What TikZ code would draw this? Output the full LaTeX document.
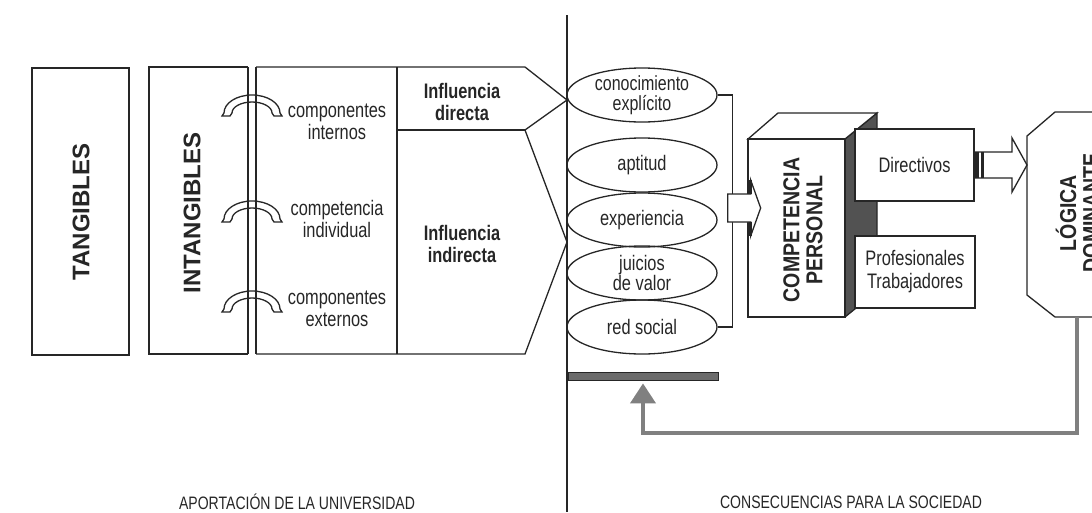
\documentclass[tikz,border=0pt]{standalone}
\usepackage{fontspec}
\setmainfont{Liberation Sans}[FakeStretch=0.78]
\newfontfamily\widefont{Liberation Sans}
\newfontfamily\capfont{Liberation Sans}[FakeStretch=0.85]
\usetikzlibrary{shapes.geometric,arrows.meta,calc}
\tikzset{
  ln/.style={draw=black!85, line width=1.3pt},
  lbl/.style={font=\fontsize{21}{21.5}\selectfont, align=center, inner sep=0pt, text=black!85},
  blbl/.style={font=\fontsize{21}{21.5}\selectfont\bfseries, align=center, inner sep=0pt, text=black!85},
  bigcap/.style={font=\widefont\bfseries\fontsize{24}{24}\selectfont, rotate=90, inner sep=0pt, text=black!85},
  medcap/.style={font=\capfont\bfseries\fontsize{23}{23}\selectfont, rotate=90, align=center, inner sep=0pt, text=black!85},
  oval/.style={ellipse, ln, minimum width=150pt, minimum height=54pt, inner sep=0pt},
  footer/.style={font=\fontsize{18}{18}\selectfont, inner sep=0pt, text=black!85},
  fb/.style={draw=black!50, line width=4pt},
  boxnode/.style={ln, fill=white, inner sep=0pt, align=center, font=\fontsize{21}{23}\selectfont, text=black!85},
  binderclip/.pic={
    \draw[ln, fill=white] (-30,3) -- (-28,0) arc[x radius=28, y radius=18, start angle=180, end angle=360]
      -- (30,3) -- (22,3) -- (20,0) arc[x radius=20, y radius=11, start angle=0, end angle=-180] -- (-22,3) -- cycle;
  }
}
\begin{document}
\begin{tikzpicture}[x=1pt, y=-1pt]
\useasboundingbox (0,0) rectangle (1092,512);
\begin{scope}
\clip (0,0) rectangle (1092,512);

% --- left part: university contribution ---
\node[ln, minimum width=97pt, minimum height=287pt, inner sep=0pt] (tangbox) at (80.5,211.5) {};
\node[bigcap] (tang) at (81,212) {TANGIBLES};

\draw[ln] (248,67) -- (149,67) -- (149,354) -- (248,354);
\node[bigcap] (intang) at (192,213) {INTANGIBLES};

\draw[ln] (256,67) -- (525,67) -- (567,100) -- (525,130) -- (567,242) -- (525,354) -- (256,354);
\draw[ln] (397,67) -- (397,354);
\draw[ln] (397,130) -- (525,130);

\pic at (252,113) {binderclip};
\pic at (252,219) {binderclip};
\pic at (252,309) {binderclip};
\draw[ln] (248,67) -- (248,354);
\draw[ln] (256,67) -- (256,354);

\node[lbl] (ci1) at (337,122) {componentes\\internos};
\node[lbl] (ci2) at (337,219) {competencia\\individual};
\node[lbl] (ci3) at (337,309) {componentes\\externos};
\node[blbl] (infd) at (462,102) {Influencia\\directa};
\node[blbl] (infi) at (462,244) {Influencia\\indirecta};

% --- divider ---
\draw[ln] (567,15) -- (567,512);

% --- ellipses ---
\node[oval] (k1) at (642,95) {};
\node[oval] (k2) at (642,165) {};
\node[oval] (k3) at (642,220) {};
\node[oval] (k4) at (642,273) {};
\node[oval] (k5) at (642,327) {};
\node[lbl, font=\fontsize{20.5}{20}\selectfont] (k1t) at (k1) {conocimiento\\explícito};
\node[lbl] (k2t) at (k2) {aptitud};
\node[lbl] (k3t) at (k3) {experiencia};
\node[lbl, font=\fontsize{21}{20}\selectfont] (k4t) at (k4) {juicios\\de valor};
\node[lbl] (k5t) at (k5) {red social};
\draw[ln] (k1.east) -- ++(15,0) |- (k5.east);

% --- competencia personal (3D box) ---
\fill[black!68] (845,139) -- (877,113) -- (877,291) -- (845,317) -- cycle;
\draw[ln] (845,139) -- (877,113) -- (877,291) -- (845,317);
\draw[ln, fill=white] (748,139) -- (778,113) -- (877,113) -- (845,139) -- cycle;
\node[ln, fill=white, minimum width=97pt, minimum height=178pt, inner sep=0pt] (comp) at (796.5,228) {};
\node[medcap] (compt) at (803,230) {COMPETENCIA\\PERSONAL};

\node[boxnode, minimum width=119pt, minimum height=72pt] (dir) at (914.5,165) {Directivos};
\node[boxnode, minimum width=120pt, minimum height=72pt] (prof) at (915,272) {Profesionales\\Trabajadores};

% arrow from bracket to competencia
\coordinate (ca) at ($(k1.east)!0.5!(k5.east)+(10,-3)$);
\draw[ln, fill=white] ($(ca)+(0,-14)$) -- ++(23,0) -- ++(0,-14) -- ($(ca)+(33,0)$)
  -- ($(ca)+(23,28)$) -- ++(0,-14) -- ($(ca)+(0,14)$) -- cycle;
\draw[black!85, line width=2.6pt] ($(ca)+(23,-28)$) -- ($(ca)+(23,-14)$);
\draw[black!85, line width=2.6pt] ($(ca)+(23,14)$) -- ($(ca)+(23,28)$);

% --- lógica dominante ---
\draw[ln, fill=white] (1120,112) -- (1055,112) -- (1027,136) -- (1027,295) -- (1055,317) -- (1120,317);
\coordinate (lgw) at (1027,165);
\coordinate (lgb) at (1077,317);
\node[medcap] (logt) at (1077.5,213) {LÓGICA\\DOMINANTE};

% arrow from Directivos to Lógica
\draw[ln, fill=white] ($(dir.east)+(0,-13)$) -- ($(lgw)+(-15,-13)$) -- ($(lgw)+(-15,-27)$) -- (lgw)
  -- ($(lgw)+(-15,27)$) -- ($(lgw)+(-15,13)$) -- ($(dir.east)+(0,13)$) -- cycle;
\fill[black!85] ($(dir.east)+(0,-13)$) rectangle ($(dir.east)+(4,13)$);
\fill[black!85] ($(dir.east)+(6,-13)$) rectangle ($(dir.east)+(9,13)$);

% --- feedback ---
\node[draw=black!85, line width=0.8pt, fill=black!58, minimum width=150pt, minimum height=8pt, inner sep=0pt] (bar) at (643,376) {};
\draw[fb, -{Triangle[width=25pt,length=20pt]}, shorten >=3pt] (lgb) -- ($(lgb)+(0,116)$) -| (bar.south);

% --- footers ---
\node[footer] (apo) at (297,502) {APORTACIÓN DE LA UNIVERSIDAD};
\node[footer] (cons) at (851,502) {CONSECUENCIAS PARA LA SOCIEDAD};
\end{scope}
\end{tikzpicture}
\end{document}
